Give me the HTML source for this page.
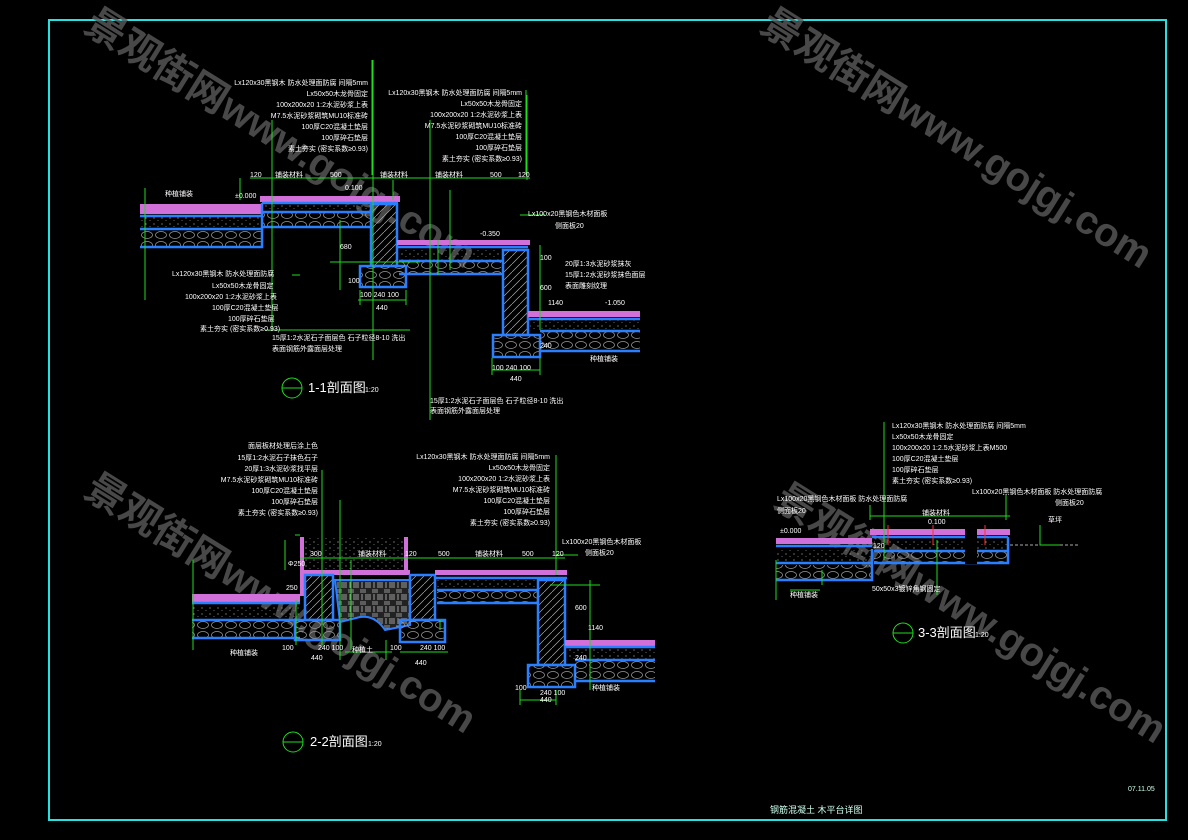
<!DOCTYPE html>
<html><head><meta charset="utf-8"><style>
html,body{margin:0;padding:0;background:#000;}
svg{display:block;}
text{font-family:"Liberation Sans","Noto Sans CJK SC",sans-serif;}
.t{fill:#fff;font-size:7px;}
.g{stroke:#1fdc1f;stroke-width:1;fill:none;}
.w{fill:#5a5a5a;font-size:40px;font-weight:bold;opacity:.8;}
</style></head><body>
<svg width="1188" height="840" viewBox="0 0 1188 840" xmlns="http://www.w3.org/2000/svg">
<defs>
<pattern id="gr" width="14" height="10" patternUnits="userSpaceOnUse">
<ellipse cx="7" cy="5" rx="5.5" ry="3.5" fill="none" stroke="#9a9a9a" stroke-width="0.7"/>
</pattern>
<pattern id="co" width="8" height="6" patternUnits="userSpaceOnUse">
<circle cx="2" cy="2" r="0.6" fill="#aaa"/><circle cx="6" cy="4.5" r="0.5" fill="#888"/>
</pattern>
<pattern id="ha" width="8" height="8" patternUnits="userSpaceOnUse">
<path d="M0 8 L8 0" stroke="#aaa" stroke-width="0.7"/>
</pattern>
<pattern id="bk" width="12" height="12" patternUnits="userSpaceOnUse">
<rect width="12" height="12" fill="#222"/>
<path d="M0 2H6M0 4H6M6 6V12M8 6V12M10 6V12M2 6V12" stroke="#bbb" stroke-width="0.8"/>
</pattern>
</defs>
<rect width="1188" height="840" fill="#000"/>
<rect x="49" y="20" width="1117" height="800" fill="none" stroke="#27e0e0" stroke-width="2"/>

<!-- watermarks -->
<text class="w" transform="translate(82,30) rotate(32)">景观街网www.gojgj.com</text>
<text class="w" transform="translate(758,30) rotate(32)">景观街网www.gojgj.com</text>
<text class="w" transform="translate(82,495) rotate(32)">景观街网www.gojgj.com</text>
<text class="w" transform="translate(772,505) rotate(32)">景观街网www.gojgj.com</text>

<!-- ===== SECTION 1 ===== -->
<g>
<!-- left ground -->
<rect x="140" y="204" width="122" height="10" fill="#d070d8"/>
<rect x="140" y="215" width="122" height="14" fill="url(#co)"/>
<rect x="140" y="230" width="122" height="17" fill="url(#gr)"/>
<path d="M140 216H262M140 229H262M140 247H262V230" stroke="#2a7fff" stroke-width="2.5" fill="none"/>
<!-- upper platform -->
<rect x="260" y="196" width="140" height="6" fill="#d070d8"/>
<rect x="262" y="204" width="108" height="8" fill="url(#co)"/>
<rect x="262" y="213" width="108" height="14" fill="url(#gr)"/>
<path d="M262 203H398M262 212H370M262 227H370M262 203V230" stroke="#2a7fff" stroke-width="2.5" fill="none"/>
<!-- wall -->
<rect x="371" y="204" width="26" height="62" fill="url(#ha)" stroke="#2a7fff" stroke-width="2.5"/>
<rect x="360" y="266" width="46" height="21" fill="url(#gr)" stroke="#2a7fff" stroke-width="2.5"/>
<!-- middle -->
<rect x="397" y="240" width="133" height="5" fill="#d070d8"/>
<rect x="399" y="250" width="102" height="11" fill="url(#co)"/>
<rect x="399" y="262" width="102" height="12" fill="url(#gr)"/>
<path d="M397 247H528M399 261H502M399 274H502" stroke="#2a7fff" stroke-width="2.5" fill="none"/>
<rect x="503" y="250" width="25" height="85" fill="url(#ha)" stroke="#2a7fff" stroke-width="2.5"/>
<rect x="493" y="335" width="47" height="22" fill="url(#gr)" stroke="#2a7fff" stroke-width="2.5"/>
<!-- lower -->
<rect x="528" y="311" width="112" height="6" fill="#d070d8"/>
<rect x="530" y="320" width="110" height="11" fill="url(#co)"/>
<rect x="540" y="332" width="100" height="19" fill="url(#gr)"/>
<path d="M528 319H640M540 331H640M540 351H640" stroke="#2a7fff" stroke-width="2.5" fill="none"/>
<!-- dims -->
<path class="g" d="M145 188V300M250 178H530M373 60V360M526 90V175M393 180V200M450 190V270M438 240V275M540 245V330M520 215H545M340 220V290M330 262H420M358 300H406M360 290V305M406 290V305M492 370H540M492 358V375M540 358V375M240 178V200M272 120V330M430 120V420M265 330H410M292 275H300"/>
<path class="g" d="M372 60V175M527 95V180"/>
<text class="t" x="250" y="177">120</text><text class="t" x="275" y="177">铺装材料</text><text class="t" x="330" y="177">500</text>
<text class="t" x="380" y="177">铺装材料</text><text class="t" x="435" y="177">铺装材料</text><text class="t" x="490" y="177">500</text><text class="t" x="518" y="177">120</text>
<text class="t" x="235" y="198">±0.000</text><text class="t" x="345" y="190">0.100</text><text class="t" x="480" y="236">-0.350</text><text class="t" x="605" y="305">-1.050</text>
<text class="t" x="165" y="196">种植铺装</text>
<text class="t" x="340" y="249">680</text><text class="t" x="348" y="283">100</text>
<text class="t" x="360" y="297">100 240 100</text><text class="t" x="376" y="310">440</text>
<text class="t" x="492" y="370">100 240 100</text><text class="t" x="510" y="381">440</text>
<text class="t" x="540" y="260">100</text><text class="t" x="540" y="290">600</text><text class="t" x="548" y="305">1140</text>
<text class="t" x="540" y="348">240</text>
<text class="t" x="528" y="216">Lx100x20黑钢色木材面板</text><text class="t" x="555" y="228">侧面板20</text>
<text class="t" x="565" y="266">20厚1:3水泥砂浆抹灰</text><text class="t" x="565" y="277">15厚1:2水泥砂浆抹色面层</text><text class="t" x="565" y="288">表面雕刻纹理</text>
<text class="t" x="590" y="361">种植铺装</text>
<!-- left labels -->
<text class="t" x="172" y="276">Lx120x30黑钢木 防水处理面防腐</text><text class="t" x="212" y="288">Lx50x50木龙骨固定</text>
<text class="t" x="185" y="299">100x200x20 1:2水泥砂浆上表</text><text class="t" x="212" y="310">100厚C20混凝土垫层</text>
<text class="t" x="228" y="321">100厚碎石垫层</text><text class="t" x="200" y="331">素土夯实 (密实系数≥0.93)</text>
<text class="t" x="272" y="340">15厚1:2水泥石子面层色 石子粒径8-10 洗出</text><text class="t" x="272" y="351">表面钢筋外露面层处理</text>
<text class="t" x="430" y="403">15厚1:2水泥石子面层色 石子粒径8-10 洗出</text><text class="t" x="430" y="413">表面钢筋外露面层处理</text>
<!-- top labels -->
<g text-anchor="end">
<text class="t" x="368" y="85">Lx120x30黑钢木 防水处理面防腐 间隔5mm</text><text class="t" x="368" y="96">Lx50x50木龙骨固定</text>
<text class="t" x="368" y="107">100x200x20 1:2水泥砂浆上表</text><text class="t" x="368" y="118">M7.5水泥砂浆砌筑MU10标准砖</text>
<text class="t" x="368" y="129">100厚C20混凝土垫层</text><text class="t" x="368" y="140">100厚碎石垫层</text><text class="t" x="368" y="151">素土夯实 (密实系数≥0.93)</text>
<text class="t" x="522" y="95">Lx120x30黑钢木 防水处理面防腐 间隔5mm</text><text class="t" x="522" y="106">Lx50x50木龙骨固定</text>
<text class="t" x="522" y="117">100x200x20 1:2水泥砂浆上表</text><text class="t" x="522" y="128">M7.5水泥砂浆砌筑MU10标准砖</text>
<text class="t" x="522" y="139">100厚C20混凝土垫层</text><text class="t" x="522" y="150">100厚碎石垫层</text><text class="t" x="522" y="161">素土夯实 (密实系数≥0.93)</text>
</g>
<circle cx="292" cy="388" r="10" class="g"/><path class="g" d="M282 388H302"/>
<text x="308" y="392" fill="#fff" font-size="13">1-1剖面图</text><text class="t" x="365" y="392">1:20</text>
</g>

<!-- ===== SECTION 2 ===== -->
<g>
<rect x="192" y="594" width="108" height="8" fill="#d070d8"/>
<rect x="192" y="605" width="108" height="14" fill="url(#co)"/>
<rect x="192" y="621" width="108" height="17" fill="url(#gr)"/>
<path d="M192 603H300M192 620H300M192 638H300" stroke="#2a7fff" stroke-width="2.5" fill="none"/>
<path d="M302 537V596" stroke="#d070d8" stroke-width="4"/>
<path d="M406 537V572" stroke="#d070d8" stroke-width="4"/>
<rect x="304" y="537" width="102" height="33" fill="url(#co)"/>
<rect x="300" y="570" width="110" height="5" fill="#d070d8"/>
<rect x="305" y="575" width="28" height="45" fill="url(#ha)" stroke="#2a7fff" stroke-width="2.5"/>
<rect x="295" y="620" width="45" height="20" fill="url(#gr)" stroke="#2a7fff" stroke-width="2.5"/>
<path d="M335 580H410V625Q395 628 385 630Q375 615 360 617Q348 620 340 622Z" fill="url(#bk)" stroke="#2a7fff" stroke-width="2"/>
<rect x="410" y="575" width="25" height="45" fill="url(#ha)" stroke="#2a7fff" stroke-width="2.5"/>
<rect x="400" y="620" width="45" height="22" fill="url(#gr)" stroke="#2a7fff" stroke-width="2.5"/>
<rect x="435" y="570" width="132" height="5" fill="#d070d8"/>
<rect x="437" y="580" width="100" height="10" fill="url(#co)"/>
<rect x="437" y="591" width="100" height="12" fill="url(#gr)"/>
<path d="M435 578H567M437 590H537M437 603H537" stroke="#2a7fff" stroke-width="2.5" fill="none"/>
<rect x="538" y="580" width="27" height="85" fill="url(#ha)" stroke="#2a7fff" stroke-width="2.5"/>
<rect x="528" y="665" width="47" height="22" fill="url(#gr)" stroke="#2a7fff" stroke-width="2.5"/>
<rect x="565" y="640" width="90" height="6" fill="#d070d8"/>
<rect x="567" y="648" width="88" height="12" fill="url(#co)"/>
<rect x="575" y="661" width="80" height="20" fill="url(#gr)"/>
<path d="M565 647H655M575 660H655M575 681H655" stroke="#2a7fff" stroke-width="2.5" fill="none"/>
<path class="g" d="M193 560V650M300 558H565M322 470V645M556 455V575M340 500V660M351 560V650M386 640V660M440 620V630M590 580V690M550 585H600M300 535H295M296 600V645M556 555H578M345 652H392M400 652H448M520 700H556M520 690V705M556 690V705M285 540V570"/>
<text class="t" x="310" y="556">300</text><text class="t" x="358" y="556">铺装材料</text><text class="t" x="405" y="556">120</text><text class="t" x="438" y="556">500</text>
<text class="t" x="475" y="556">铺装材料</text><text class="t" x="522" y="556">500</text><text class="t" x="552" y="556">120</text>
<text class="t" x="288" y="566">Φ250</text><text class="t" x="286" y="590">250</text>
<text class="t" x="282" y="650">100</text><text class="t" x="318" y="650">240 100</text><text class="t" x="311" y="660">440</text>
<text class="t" x="390" y="650">100</text><text class="t" x="420" y="650">240 100</text><text class="t" x="415" y="665">440</text>
<text class="t" x="515" y="690">100</text><text class="t" x="540" y="695">240 100</text><text class="t" x="540" y="702">440</text>
<text class="t" x="575" y="610">600</text><text class="t" x="588" y="630">1140</text><text class="t" x="575" y="660">240</text>
<text class="t" x="230" y="655">种植铺装</text><text class="t" x="352" y="652">种植土</text><text class="t" x="592" y="690">种植铺装</text>
<text class="t" x="562" y="544">Lx100x20黑钢色木材面板</text><text class="t" x="585" y="555">侧面板20</text>
<g text-anchor="end">
<text class="t" x="318" y="448">面层板材处理后涂上色</text><text class="t" x="318" y="460">15厚1:2水泥石子抹色石子</text>
<text class="t" x="318" y="471">20厚1:3水泥砂浆找平层</text><text class="t" x="318" y="482">M7.5水泥砂浆砌筑MU10标准砖</text>
<text class="t" x="318" y="493">100厚C20混凝土垫层</text><text class="t" x="318" y="504">100厚碎石垫层</text><text class="t" x="318" y="515">素土夯实 (密实系数≥0.93)</text>
<text class="t" x="550" y="459">Lx120x30黑钢木 防水处理面防腐 间隔5mm</text><text class="t" x="550" y="470">Lx50x50木龙骨固定</text>
<text class="t" x="550" y="481">100x200x20 1:2水泥砂浆上表</text><text class="t" x="550" y="492">M7.5水泥砂浆砌筑MU10标准砖</text>
<text class="t" x="550" y="503">100厚C20混凝土垫层</text><text class="t" x="550" y="514">100厚碎石垫层</text><text class="t" x="550" y="525">素土夯实 (密实系数≥0.93)</text>
</g>
<circle cx="293" cy="742" r="10" class="g"/><path class="g" d="M283 742H303"/>
<text x="310" y="746" fill="#fff" font-size="13">2-2剖面图</text><text class="t" x="368" y="746">1:20</text>
</g>

<!-- ===== SECTION 3 ===== -->
<g>
<rect x="776" y="538" width="96" height="6" fill="#d070d8"/>
<rect x="776" y="549" width="96" height="12" fill="url(#co)"/>
<rect x="776" y="565" width="96" height="15" fill="url(#gr)"/>
<path d="M776 546H872M776 563H872M776 580H872V549" stroke="#2a7fff" stroke-width="2.5" fill="none"/>
<rect x="870" y="529" width="140" height="6" fill="#d070d8"/>
<rect x="874" y="540" width="134" height="10" fill="url(#co)"/>
<rect x="874" y="551" width="134" height="12" fill="url(#gr)"/>
<path d="M872 537H1008M874 551H1008M874 563H1008V537" stroke="#2a7fff" stroke-width="2.5" fill="none"/>
<rect x="965" y="528" width="12" height="36" fill="#000"/>
<path d="M1010 545H1080" stroke="#aaa" stroke-width="1" stroke-dasharray="3 2"/>
<path d="M888 525V545M933 525V545M985 525V545" stroke="#ff3030" stroke-width="1"/>
<path class="g" d="M884 422V560M870 516H1010M1006 495V520M870 505V520M776 560V600M937 540V595M790 590H820M1040 525V545H1060M822 585V570"/>
<g text-anchor="start">
<text class="t" x="892" y="428">Lx120x30黑钢木 防水处理面防腐 间隔5mm</text><text class="t" x="892" y="439">Lx50x50木龙骨固定</text>
<text class="t" x="892" y="450">100x200x20 1:2.5水泥砂浆上表M500</text><text class="t" x="892" y="461">100厚C20混凝土垫层</text>
<text class="t" x="892" y="472">100厚碎石垫层</text><text class="t" x="892" y="483">素土夯实 (密实系数≥0.93)</text>
<text class="t" x="777" y="501">Lx100x20黑钢色木材面板 防水处理面防腐</text><text class="t" x="777" y="513">侧面板20</text>
<text class="t" x="972" y="494">Lx100x20黑钢色木材面板 防水处理面防腐</text><text class="t" x="1055" y="505">侧面板20</text>
<text class="t" x="922" y="515">铺装材料</text><text class="t" x="928" y="524">0.100</text><text class="t" x="780" y="533">±0.000</text>
<text class="t" x="873" y="548">120</text><text class="t" x="1048" y="522">草坪</text>
<text class="t" x="872" y="591">50x50x3镀锌角钢固定</text><text class="t" x="790" y="597">种植铺装</text>
</g>
<circle cx="903" cy="633" r="10" class="g"/><path class="g" d="M893 633H913"/>
<text x="918" y="637" fill="#fff" font-size="13">3-3剖面图</text><text class="t" x="975" y="637">1:20</text>
</g>

<text x="770" y="813" fill="#cfe" font-size="9">钢筋混凝土 木平台详图</text>
<text x="1128" y="791" fill="#cfe" font-size="7">07.11.05</text>
</svg>
</body></html>
